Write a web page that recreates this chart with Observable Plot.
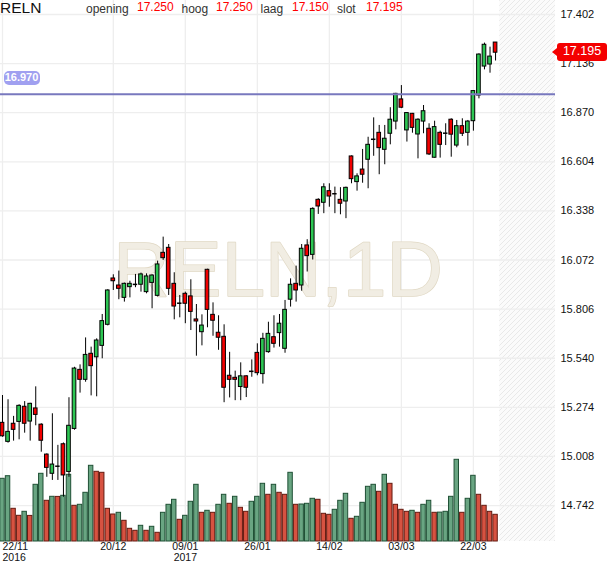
<!DOCTYPE html>
<html>
<head>
<meta charset="utf-8">
<script src="https://cdn.jsdelivr.net/npm/d3@7"></script>
<script src="https://cdn.jsdelivr.net/npm/@observablehq/plot@0.6"></script>
<style>
  html, body { margin: 0; padding: 0; background: #fff; }
  body { font-family: "Liberation Sans", Arial, Helvetica, sans-serif; }
  #wrap { position: relative; width: 610px; height: 568px; overflow: hidden; background: #fff; }
  #wrap svg { position: absolute; left: 0; top: 0; }
  .h { position: absolute; white-space: nowrap; line-height: 1; }
  .lbl { font-size: 12px; line-height: 12px; color: #333; }
  .val { font-size: 12px; line-height: 12px; color: #ff0000; }
  .badge { position: absolute; background: #a0a0f0; color: #fff; font-size: 11px; font-weight: bold;
           text-align: center; border-radius: 5px; }
  .tag { position: absolute; background: #f40000; color: #fff; font-size: 12.5px; text-align: center;
         border-radius: 3px; }
  .tag::before { content: ""; position: absolute; left: -5px; top: 50%; margin-top: -4px;
                 border-right: 5px solid #f40000; border-top: 4px solid transparent; border-bottom: 4px solid transparent; }
</style>
</head>
<body>
<div id="wrap"></div>
<script>
// ---------- data (RELN, daily, 22/11/2016 – 28/03/2017, x = trading-day index) ----------
const symbol = "RELN";
const watermark = "RELN,1D";
const open = [15.190,15.087,15.185,15.195,15.277,15.197,15.268,15.180,15.018,14.914,
  14.955,15.074,14.924,15.157,15.477,15.423,15.564,15.545,15.607,15.721,
  15.972,15.934,15.867,15.925,15.940,15.938,15.898,15.948,15.878,16.111,
  16.138,15.943,15.838,15.889,15.875,15.750,15.681,16.019,15.775,15.678,
  15.656,15.445,15.434,15.384,15.442,15.469,15.569,15.454,15.573,15.654,
  15.676,15.591,15.857,15.943,15.934,16.151,16.100,16.398,16.382,16.445,
  16.431,16.398,16.389,16.633,16.494,16.562,16.615,16.726,16.761,16.669,
  16.756,16.822,16.942,16.774,16.864,16.752,16.822,16.783,16.626,16.761,
  16.759,16.832,16.692,16.797,16.761,16.824,16.963,17.120,17.131,17.250];
const high = [15.338,15.315,15.225,15.288,15.305,15.296,15.385,15.185,15.022,15.239,
  15.068,15.081,15.326,15.491,15.504,15.650,15.600,15.645,15.777,15.911,
  15.992,16.012,15.947,15.957,15.994,16.001,15.997,15.992,16.066,16.196,
  16.156,16.003,15.880,15.898,15.965,15.831,15.775,16.022,15.840,15.770,
  15.721,15.572,15.470,15.515,15.445,15.531,15.618,15.675,15.735,15.770,
  15.777,15.853,15.970,16.039,16.156,16.182,16.355,16.404,16.485,16.485,
  16.467,16.464,16.467,16.636,16.539,16.671,16.737,16.842,16.801,16.801,
  16.897,16.975,17.017,16.870,16.866,16.837,16.909,16.810,16.824,16.770,
  16.810,16.837,16.828,16.837,16.828,16.990,17.189,17.247,17.225,17.250];
const low = [15.112,15.080,15.091,15.098,15.134,15.091,15.174,15.031,14.895,14.878,
  14.878,14.787,14.895,15.150,15.351,15.410,15.336,15.331,15.537,15.715,
  15.907,15.857,15.844,15.867,15.922,15.898,15.889,15.808,15.872,16.070,
  15.880,15.748,15.759,15.727,15.690,15.551,15.607,15.705,15.659,15.583,
  15.299,15.325,15.310,15.310,15.327,15.437,15.445,15.400,15.567,15.595,
  15.600,15.567,15.817,15.844,15.903,16.007,16.072,16.319,16.323,16.358,
  16.323,16.317,16.296,16.485,16.445,16.488,16.458,16.634,16.534,16.588,
  16.696,16.777,16.892,16.711,16.759,16.620,16.756,16.638,16.624,16.624,
  16.692,16.629,16.680,16.741,16.689,16.770,16.945,17.102,17.084,17.150];
const close = [15.117,15.141,15.152,15.282,15.185,15.293,15.233,15.093,14.946,14.964,
  14.955,14.905,15.174,15.484,15.423,15.558,15.497,15.636,15.741,15.907,
  15.957,15.916,15.943,15.943,15.940,15.994,15.983,15.988,16.048,16.082,
  15.916,15.820,15.838,15.835,15.791,15.739,15.717,15.802,15.743,15.651,
  15.380,15.423,15.423,15.442,15.380,15.469,15.459,15.645,15.672,15.618,
  15.727,15.802,15.938,15.907,16.133,16.093,16.349,16.362,16.466,16.416,
  16.431,16.377,16.463,16.510,16.525,16.534,16.696,16.726,16.678,16.729,
  16.832,16.972,16.897,16.868,16.788,16.832,16.878,16.644,16.792,16.696,
  16.759,16.751,16.797,16.756,16.822,16.987,17.185,17.238,17.174,17.195];
// volume, thousands of shares
const volume = [6270,6530,3270,2570,2970,2560,5670,6770,4070,4470,
  4460,4570,6670,3570,3670,4870,7570,6970,6870,3270,
  2700,2870,2070,1270,1070,1570,1070,1470,870,2870,
  3670,4170,2170,2570,3970,5670,2870,3070,2870,3670,
  4670,3770,4470,3370,2970,3970,4470,5770,4670,5670,
  4870,4670,6870,3670,3700,3770,4270,4170,2770,2670,
  3170,4070,4770,2270,2470,3870,5470,5670,4970,6670,
  5770,3670,3170,2970,3070,2870,3670,4070,2870,2890,
  2970,4470,8170,2870,4270,6570,4670,3570,2970,2670];
const priceTicks = [17.402,17.136,16.870,16.604,16.338,16.072,15.806,15.540,15.274,15.008,14.742];
const dateTickIndex = [0,20,33,46,59,72,85];
const dateTickLabels = ["22/11","20/12","09/01","26/01","14/02","03/03","22/03"];
const yearTickLabels = ["2016","","2017","","","",""];
const refLevel = 16.970;

// ---------- scales / layout ----------
const W = 610, H = 568;
const M = {top: 0, right: 55, bottom: 27, left: 0};
const xDomain = [-0.361, 99.82];           // 10 empty future slots to the right
const priceDomain = [14.5472, 17.4778];
const volDomain = [0, 54100];

const candles = open.map((o, i) => ({i, o, h: high[i], l: low[i], c: close[i]}));
const bars = volume.map((v, i) => ({i, v, up: i === 0 || v > volume[i - 1]}));
const ticks = dateTickIndex.map((i, k) => ({i, date: dateTickLabels[k], year: yearTickLabels[k]}));

const FONT = '"Liberation Sans", Arial, Helvetica, sans-serif';
const base = {
  width: W, height: H,
  marginTop: M.top, marginRight: M.right, marginBottom: M.bottom, marginLeft: M.left,
  x: {type: "linear", domain: xDomain, axis: null}
};

// layer 1: background (hatched future area, grid, watermark)
const bg = Plot.plot({
  ...base,
  y: {domain: priceDomain, axis: null},
  style: {background: "transparent", fontFamily: FONT},
  marks: [
    Plot.rect([0], {x1: () => candles.length - 0.25, x2: () => xDomain[1], fill: "url(#hatch)"}),
    Plot.ruleY(priceTicks, {stroke: "#eeeeee", strokeWidth: 1.3}),
    Plot.ruleX(dateTickIndex, {stroke: "#eeeeee", strokeWidth: 1.3}),
    Plot.text([watermark], {text: d => d, frameAnchor: "middle", fontSize: 78,
      fill: "#f1ede3", stroke: "#e0d8c4", strokeWidth: 1.4})
  ]
});
d3.select(bg).insert("defs", ":first-child").html(
  '<pattern id="hatch" patternUnits="userSpaceOnUse" width="5" height="5">' +
  '<rect width="5" height="5" fill="#fbfbfb"/>' +
  '<path d="M-1,1 l2,-2 M0,5 l5,-5 M4,6 l2,-2" stroke="#e9e9e9" stroke-width="1"/></pattern>');

// layer 2: volume
const vol = Plot.plot({
  ...base,
  y: {domain: volDomain, axis: null},
  style: {background: "transparent", fontFamily: FONT},
  marks: [
    Plot.rect(bars, {
      x1: d => d.i - 0.4, x2: d => d.i + 0.4, y1: 0, y2: "v",
      fill: d => d.up ? "#69a582" : "#d75241",
      stroke: d => d.up ? "#1f5035" : "#641a10", strokeWidth: 1
    })
  ]
});

// layer 3: candles, reference line, axes
const bodies = candles.filter(d => d.o !== d.c);
const dojis = candles.filter(d => d.o === d.c);
const price = Plot.plot({
  ...base,
  y: {domain: priceDomain, axis: "right", ticks: priceTicks, tickFormat: d => d.toFixed(3),
      tickSize: 0, tickPadding: 5, label: null},
  style: {background: "transparent", fontFamily: FONT, fontSize: "11px", color: "#111"},
  marks: [
    Plot.ruleX(candles, {x: "i", y1: "l", y2: "h", stroke: "#000", strokeWidth: 1}),
    Plot.rect(bodies, {x1: d => d.i - 0.33, x2: d => d.i + 0.33, y1: "o", y2: "c",
      fill: d => d.c > d.o ? "#2dc653" : "#f20000", stroke: "#000", strokeWidth: 1}),
    Plot.ruleY(dojis, {y: "c", x1: d => d.i - 0.4, x2: d => d.i + 0.4, stroke: "#000", strokeWidth: 1.5}),
    Plot.ruleY([refLevel], {stroke: "#7878be", strokeWidth: 2}),
    Plot.text(ticks.filter(d => d.i === 0), {x: "i", text: "date", frameAnchor: "bottom", dy: 8,
      textAnchor: "start", fontSize: 10.5, fill: "#111"}),
    Plot.text(ticks.filter(d => d.i !== 0), {x: "i", text: "date", frameAnchor: "bottom", dy: 8,
      fontSize: 10.5, fill: "#111"}),
    Plot.text(ticks.filter(d => d.i === 0 && d.year), {x: "i", text: "year", frameAnchor: "bottom", dy: 19,
      textAnchor: "start", fontSize: 10.5, fill: "#111"}),
    Plot.text(ticks.filter(d => d.i !== 0 && d.year), {x: "i", text: "year", frameAnchor: "bottom", dy: 19,
      fontSize: 10.5, fill: "#111"})
  ]
});

const wrap = document.getElementById("wrap");
wrap.append(bg, vol, price);

// pixel position from the plot's own y scale
let yPix;
try { const s = price.scale("y"); yPix = v => s.apply(v); } catch (e) { yPix = null; }
if (!yPix || !isFinite(yPix(refLevel))) {
  const s = d3.scaleLinear(priceDomain, [H - M.bottom, M.top]); yPix = v => s(v);
}

// header
const last = candles.length - 1;
const hdr = [
  {t: symbol, cls: "", x: 0, top: -0.5, style: "font-size:15.5px;color:#111;"},
  {t: "opening", cls: "lbl", x: 86, top: 2.6},
  {t: open[last].toFixed(3), cls: "val", x: 137, top: 0.6},
  {t: "hoog", cls: "lbl", x: 181.5, top: 2.6},
  {t: high[last].toFixed(3), cls: "val", x: 216, top: 0.6},
  {t: "laag", cls: "lbl", x: 260.5, top: 2.6},
  {t: low[last].toFixed(3), cls: "val", x: 292, top: 0.6},
  {t: "slot", cls: "lbl", x: 337, top: 2.6},
  {t: close[last].toFixed(3), cls: "val", x: 366, top: 0.6}
];
for (const h of hdr) {
  const el = document.createElement("div");
  el.className = "h " + h.cls;
  el.textContent = h.t;
  el.style.left = h.x + "px";
  el.style.top = h.top + "px";
  if (h.style) el.style.cssText += h.style;
  wrap.append(el);
}

// reference-level badge (left)
const yr = yPix(refLevel);
const badge = document.createElement("div");
badge.className = "badge";
badge.textContent = refLevel.toFixed(3);
Object.assign(badge.style, {left: "3.5px", top: (yr - 22.7) + "px", width: "36px", height: "13.5px", lineHeight: "13.5px"});
wrap.append(badge);

// last price tag (right)
const yc = yPix(close[last]);
const tag = document.createElement("div");
tag.className = "tag";
tag.textContent = close[last].toFixed(3);
Object.assign(tag.style, {left: "557px", top: (yc - 9) + "px", width: "50px", height: "17.5px", lineHeight: "17.5px"});
wrap.append(tag);
</script>
</body>
</html>
